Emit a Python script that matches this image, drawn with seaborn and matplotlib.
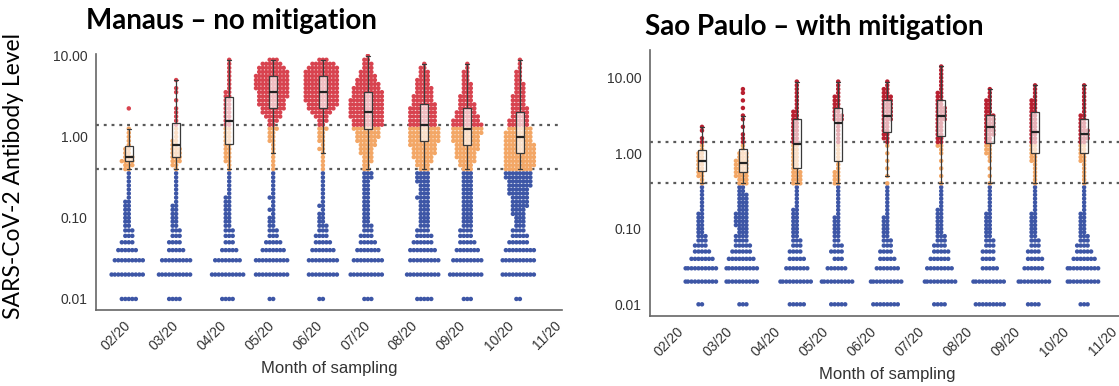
"""
Antibody levels by month of sampling, Manaus vs Sao Paulo (swarm + box).
"""
import numpy as np
import pandas as pd
import matplotlib
matplotlib.use('Agg')
import matplotlib.pyplot as plt
import seaborn as sns

# antibody levels the samples sit on: 0.01 steps at the bottom, 0.05-decade grid above
levels = [0.01, 0.02, 0.03, 0.04, 0.05, 0.06, 0.07, 0.08, 0.09,
          0.1, 0.112, 0.126, 0.141, 0.158, 0.178, 0.2, 0.224, 0.251, 0.282, 0.316, 0.355,
          0.4, 0.447, 0.501, 0.562, 0.631, 0.708, 0.794, 0.891, 1.0, 1.12, 1.26,
          1.41, 1.58, 1.78, 2.0, 2.24, 2.51, 2.82, 3.16, 3.55, 3.98, 4.47, 5.01,
          5.62, 6.31, 7.08, 7.94, 8.91, 10.0, 11.2, 12.6, 14.1]

month_labels = ['02/20', '03/20', '04/20', '05/20', '06/20',
                '07/20', '08/20', '09/20', '10/20', '11/20']

# sampling position, in months after 1 Feb 2020
manaus_pos = [0.10, 1.09, 2.20, 3.12, 4.16, 5.10, 6.28, 7.18, 8.28]
sp_pos = [0.52, 1.37, 2.49, 3.35, 4.37, 5.49, 6.50, 7.44, 8.46]

# samples per level (aligned with `levels`), one row per sampling month
manaus_counts = [
    [5,10,9,6,4,3,3,2,2, 2, 2,2,2,2,1,1,1,1,1,1,1, 2,3,4,3,2,2,1,1,1,1,1,0,0,0,0,1],
    [4,10,9,5,4,3,3,2,2, 2, 2,2,2,1,1,1,1,1,1,1,1, 1,2,3,3,3,3,2,2,1,1,1,1,1,1,1,1,0,1,0,1,1,0,1],
    [4,10,8,5,3,3,3,2,2, 2, 2,2,2,2,2,1,1,1,1,1,1, 1,1,2,2,2,2,2,2,2,2,2,2,2,2,2,2,2,2,2,2,1,1,1,1,1,1,1,1],
    [2,10,10,7,5,3,3,2,2, 2, 1,2,1,1,2,1,1,1,1,1,1, 1,1,1,1,1,1,1,2,2,2,3, 2,3,5,6,7,8,8,9,9,10,10,10,10,9,8,6,3],
    [2,9,9,7,5,4,3,3,2, 2, 2,1,2,1,1,1,1,1,1,1,1, 1,1,1,1,1,2,1,2,2,2,3, 2,3,4,6,8,9,10,10,10,10,10,10,10,10,9,7,3],
    [3,10,9,7,5,4,3,3,2, 2, 2,2,2,2,2,2,2,2,2,3,3, 2,2,3,3,4,4,5,6,7,7,8, 9,9,10,10,10,10,10,9,9,8,7,6,5,4,3,3,2,1],
    [5,10,9,8,6,5,4,3,3, 3, 3,3,3,3,4,3,3,3,4,4,4, 3,4,5,6,7,7,8,9,9,9,9, 8,8,8,8,8,7,6,6,5,5,4,4,3,3,2,1],
    [3,10,9,7,5,4,4,3,3, 3, 3,3,3,3,3,3,3,3,3,3,3, 3,4,5,6,6,7,7,8,8,9,9, 9,8,7,6,5,5,4,4,3,3,3,2,2,2,1,1],
    [2,10,10,9,6,5,4,3,3, 3, 4,4,5,5,5,6,6,7,7,8,8, 8,9,9,9,9,9,9,8,8,8,7, 6,6,5,5,5,4,4,4,3,3,3,2,2,2,1,1,1],
]
sp_counts = [
    [2,10,10,7,5,4,3,3,2, 2, 2,2,2,2,1,1,1,1,1,1,1, 1,1,2,2,2,2,2,2,2,1,1,1,1,0,1,1],
    [3,10,10,8,6,5,4,4,3, 3, 4,4,4,4,3,3,3,3,3,2,2, 3,3,4,4,4,4,4,3,3,1,1,1,1,1,0,1,0,1,1,0,1,0,1,0,1,1],
    [5,10,7,5,4,3,3,2,2, 2, 2,2,2,2,2,1,1,1,1,1,1, 3,3,3,3,2,2,2,2,2,2,2,2,2,2,2,2,2,2,2,2,1,1,1,1,1,1,1,1],
    [5,10,6,3,4,3,2,2,2, 2, 2,2,2,1,1,1,1,1,1,1,1, 2,2,2,2,1,1,1,1,1,1,1,1,1,1,1,1,1,3,3,2,2,2,2,2,1,1,1,1],
    [8,10,7,5,4,3,3,2,2, 2, 2,2,2,1,1,1,1,1,1,1,1, 1,0,1,0,1,0,1,0,1,0,1,1,2,2,2,2,2,3,3,3,3,3,3,3,2,2,1,1],
    [4,10,8,6,5,4,3,3,2, 2, 2,2,2,2,2,1,1,1,1,1,1, 1,0,1,0,1,0,1,0,1,1,2,2,2,2,2,2,2,3,3,3,3,2,2,2,2,1,1,1,1,1,1,1],
    [9,10,5,4,4,3,3,2,2, 2, 2,2,2,2,1,1,1,1,1,1,1, 1,0,1,0,1,0,1,1,2,2,2,2,2,3,3,3,3,3,3,2,2,2,2,1,1,1],
    [4,10,6,5,4,3,3,2,2, 2, 2,2,2,2,1,1,1,1,1,1,1, 1,1,1,1,1,1,2,2,2,2,2,2,2,2,2,2,2,2,2,2,2,2,2,1,1,1,1],
    [3,10,10,7,5,4,3,3,2, 2, 2,2,2,2,1,1,1,1,1,1,1, 1,1,1,1,1,1,2,2,2,2,2,2,3,3,3,2,2,2,2,1,1,1,1,1,1,1,1],
]

thresholds = [0.4, 1.4]
bands = ['low', 'mid', 'high']

BLUE = '#3d56a6'
ORANGE = '#f3a766'
SWARM_SIZE = 2.4   # size used to lay out the swarm
DOT_SIZE = 3.2     # size the dots are drawn at (overlapping, like the original)


def build(positions, counts):
    parts = []
    for pos, cnt in zip(positions, counts):
        vals = np.repeat(levels[:len(cnt)], cnt)
        parts.append(pd.DataFrame({'month': pos, 'value': vals}))
    df = pd.concat(parts, ignore_index=True)
    df['band'] = pd.cut(df['value'], [0] + thresholds + [100], right=False,
                        labels=bands).astype(str)
    return df


def panel(ax, df, xlim, ylim, red):
    ax.set_yscale('log')
    sns.swarmplot(data=df, x='month', y='value', hue='band', hue_order=bands,
                  palette={'low': BLUE, 'mid': ORANGE, 'high': red},
                  native_scale=True, orient='x', size=SWARM_SIZE, linewidth=0,
                  legend=False, warn_thresh=1, ax=ax)
    sns.boxplot(data=df[df['value'] >= thresholds[0]], x='month', y='value',
                native_scale=True, orient='x', width=0.19, showfliers=False,
                color='white', linecolor='#3a3a3a', linewidth=0.9,
                boxprops={'facecolor': (1, 1, 1, 0.65)},
                medianprops={'color': '#222222', 'linewidth': 1.6},
                zorder=3, ax=ax)
    for t in thresholds:
        ax.axhline(t, color='#5a5a5a', lw=1.6, ls=(0, (1.3, 2.2)), zorder=2)

    ax.set_xlim(*xlim)
    ax.set_ylim(*ylim)
    ax.set_yticks([0.01, 0.1, 1, 10])
    ax.set_yticklabels(['0.01', '0.10', '1.00', '10.00'])
    ax.yaxis.set_minor_locator(matplotlib.ticker.NullLocator())
    ax.set_xticks(range(len(month_labels)))
    ax.set_xticklabels(month_labels, rotation=45, ha='right', va='top',
                       rotation_mode='anchor')
    ax.tick_params(axis='both', length=3, width=1, color='#777777',
                   labelcolor='#333333', labelsize=10, pad=3)
    ax.set_ylabel('')
    ax.set_xlabel('Month of sampling', fontsize=12, color='#333333', labelpad=6)
    for s in ['top', 'right']:
        ax.spines[s].set_visible(False)
    for s in ['left', 'bottom']:
        ax.spines[s].set_color('#666666')
        ax.spines[s].set_linewidth(1.2)


sns.set_theme(style='white')
plt.rcParams['font.family'] = ['Liberation Sans', 'DejaVu Sans']

fig = plt.figure(figsize=(11.19, 3.86), dpi=100)
ax1 = fig.add_axes([0.0858, 0.1969, 0.4164, 0.6632])
ax2 = fig.add_axes([0.5809, 0.1813, 0.4245, 0.6891])

panel(ax1, build(manaus_pos, manaus_counts), (-0.586, 9.16), (0.00731, 10.5), '#d8434f')
panel(ax2, build(sp_pos, sp_counts), (-0.56, 9.31), (0.0070, 23.3), '#b81f30')

# lay the swarms out once, then freeze them and draw the dots a bit larger
fig.canvas.draw()
for ax in (ax1, ax2):
    for coll in ax.collections:
        if 'draw' in vars(coll):
            del coll.draw
        coll.set_sizes([DOT_SIZE ** 2])

fig.text(0.077, 0.925, 'Manaus \u2013 no mitigation', fontsize=20, fontweight='bold',
         family=['Lato', 'DejaVu Sans'], ha='left', va='baseline', color='black')
fig.text(0.576, 0.91, 'Sao Paulo \u2013 with mitigation', fontsize=20, fontweight='bold',
         family=['Lato', 'DejaVu Sans'], ha='left', va='baseline', color='black')
fig.text(0.012, 0.544, 'SARS-CoV-2 Antibody Level', rotation=90, fontsize=16.5,
         family=['Lato', 'DejaVu Sans'], ha='center', va='center', color='black')

fig.savefig('out.png', dpi=100)
plt.close(fig)
